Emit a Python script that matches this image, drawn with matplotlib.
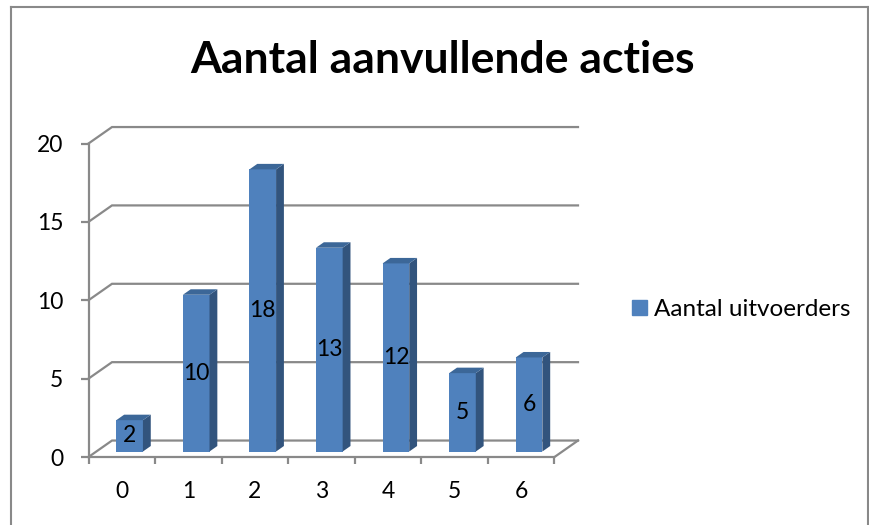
import numpy as np
import matplotlib.pyplot as plt
from matplotlib.patches import Polygon, Patch
from matplotlib.lines import Line2D

# data
categories = ['0', '1', '2', '3', '4', '5', '6']
uitvoerders = [2, 10, 18, 13, 12, 5, 6]
y_ticks = [0, 5, 10, 15, 20]
series_name = 'Aantal uitvoerders'
title = 'Aantal aanvullende acties'

plt.rcParams['font.family'] = ['Lato', 'DejaVu Sans']

W, H = 869, 525
fig = plt.figure(figsize=(W / 100, H / 100), dpi=100)

# axes = front plane of the 3d box (pixels x 88.5..554.5, y 457..143.5)
ax = fig.add_axes([88.5 / W, (H - 457) / H, 466 / W, 313.5 / H])
x = np.arange(len(categories))
x0, x1 = -0.5, len(categories) - 0.5
ax.set_xlim(x0, x1)
ax.set_ylim(0, 20)

grid = '#898989'
dx, dy = 0.353, 1.05      # depth of the box in data units
ox, oy = dx / 3, dy / 3   # bars take the middle third of the depth
bw = 0.4

# walls: side wall diagonals + back wall gridlines
for v in y_ticks:
    ax.plot([x0, x0 + dx, x1 + dx], [v, v + dy, v + dy], color=grid, lw=1.6,
            clip_on=False, zorder=1, solid_joinstyle='miter')
# floor right edge
ax.plot([x1, x1 + dx], [0, dy], color=grid, lw=1.6, clip_on=False, zorder=1)

# bars: front face through ax.bar, side and top as polygons
front, side, top = '#4f81bd', '#32547d', '#3c6798'
ax.bar(x + ox, uitvoerders, width=bw, bottom=oy, color=front, zorder=3)
for xi, v in zip(x, uitvoerders):
    l = xi + ox - bw / 2
    r = xi + ox + bw / 2
    ax.add_patch(Polygon([(r, oy), (r + ox, oy + oy), (r + ox, oy + v + oy), (r, oy + v)],
                         closed=True, fc=side, ec='none', zorder=3, clip_on=False))
    ax.add_patch(Polygon([(l, oy + v), (r, oy + v), (r + ox, oy + v + oy), (l + ox, oy + v + oy)],
                         closed=True, fc=top, ec='none', zorder=3, clip_on=False))
    ax.text(xi + ox, oy + v / 2, str(v), ha='center', va='center', fontsize=16.5, zorder=4)

# axes lines and ticks
for s in ['top', 'right']:
    ax.spines[s].set_visible(False)
for s in ['left', 'bottom']:
    ax.spines[s].set_color(grid)
    ax.spines[s].set_linewidth(1.6)
ax.set_yticks(y_ticks)
ax.tick_params(axis='y', length=6, width=1.6, color=grid, pad=12, labelsize=16.5)
ax.set_xticks(np.arange(x0, x1 + 0.5, 1))
ax.set_xticklabels([])
ax.set_xticks(x, minor=True)
ax.set_xticklabels(categories, minor=True)
ax.tick_params(axis='x', which='major', length=5.3, width=1.6, color=grid)
ax.tick_params(axis='x', which='minor', length=0, pad=17, labelsize=16.5)

# title and legend
fig.text(442.5 / W, 1 - 73 / H, title, ha='center', va='baseline',
         fontsize=32, fontweight='bold')
fig.legend(handles=[Patch(color=front, label=series_name)], loc='center left',
           bbox_to_anchor=(632 / W, 1 - 310 / H), frameon=False, fontsize=17.5,
           borderpad=0, borderaxespad=0, handlelength=0.62, handleheight=0.57,
           handletextpad=0.29)

# chart border
for xs, ys in [([11 / W, 11 / W], [0, 1 - 6.5 / H]),
               ([11 / W, 867.5 / W], [1 - 6.5 / H, 1 - 6.5 / H]),
               ([867.5 / W, 867.5 / W], [0, 1 - 6.5 / H])]:
    fig.add_artist(Line2D(xs, ys, color=grid, lw=1.5, transform=fig.transFigure))

fig.savefig('out.png', dpi=100)
